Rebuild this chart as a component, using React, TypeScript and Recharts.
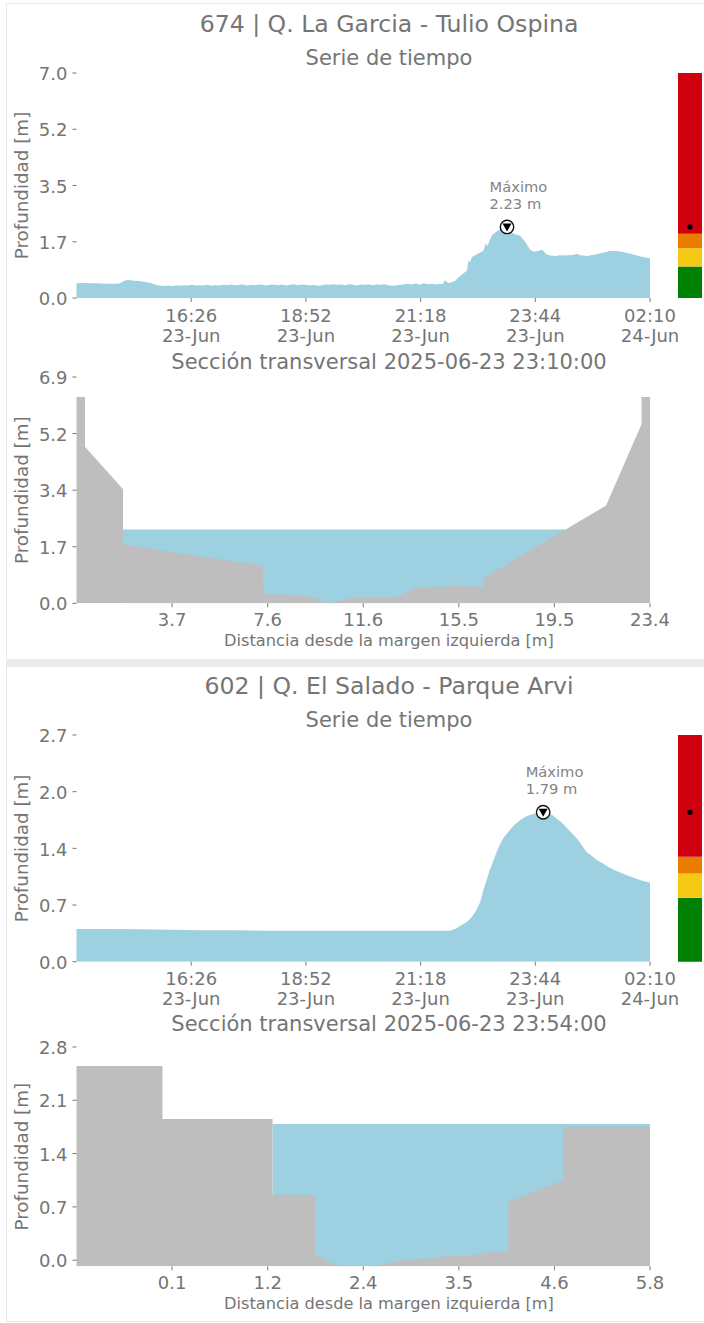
import { AreaChart, Area, BarChart, Bar, XAxis, YAxis, ReferenceDot } from 'recharts'

const FONT = '"DejaVu Sans", sans-serif'
const TEXT_COLOR = '#757575'
const WATER = '#9DD0E0'
const GROUND = '#BEBEBE'

// minutes since 14:00 on the first panel
const timeTicks = [146, 292, 438, 584, 730]
const timeLabels = ['16:26', '18:52', '21:18', '23:44', '02:10']
const dateLabels = ['23-Jun', '23-Jun', '23-Jun', '23-Jun', '24-Jun']

const garciaTimes = [0, 8, 16, 24, 32, 40, 48, 55, 60, 66, 72, 80, 88, 94, 100, 106, 112, 117, 122, 127, 132, 137, 142, 147, 152, 157, 162, 167, 172, 177, 182, 187, 192, 197, 202, 207, 212, 217, 222, 227, 232, 237, 242, 247, 252, 257, 262, 267, 272, 277, 282, 287, 292, 297, 302, 307, 312, 317, 322, 327, 332, 337, 342, 347, 352, 357, 362, 367, 372, 377, 382, 387, 392, 397, 402, 407, 412, 417, 422, 427, 432, 437, 442, 447, 452, 457, 462, 466, 469, 473, 478, 482, 490, 497, 499, 501, 503, 512, 518, 521, 523, 529, 533, 539, 545, 556, 565, 571, 577, 582, 588, 593, 598, 603, 610, 615, 622, 632, 637, 641, 650, 662, 670, 679, 686, 694, 705, 717, 724, 730]
const garciaDepths = [0.46, 0.47, 0.46, 0.46, 0.45, 0.44, 0.44, 0.45, 0.53, 0.57, 0.54, 0.53, 0.5, 0.47, 0.42, 0.38, 0.37, 0.39, 0.37, 0.39, 0.38, 0.4, 0.39, 0.41, 0.39, 0.4, 0.39, 0.41, 0.38, 0.4, 0.39, 0.41, 0.4, 0.42, 0.4, 0.41, 0.42, 0.39, 0.41, 0.4, 0.42, 0.41, 0.39, 0.42, 0.41, 0.4, 0.42, 0.39, 0.41, 0.43, 0.4, 0.42, 0.41, 0.39, 0.41, 0.38, 0.4, 0.42, 0.41, 0.43, 0.41, 0.42, 0.4, 0.43, 0.41, 0.39, 0.42, 0.41, 0.43, 0.4, 0.42, 0.41, 0.43, 0.4, 0.38, 0.39, 0.41, 0.42, 0.44, 0.42, 0.45, 0.41, 0.46, 0.43, 0.44, 0.42, 0.44, 0.43, 0.55, 0.47, 0.49, 0.54, 0.72, 0.85, 1.18, 1.1, 1.27, 1.39, 1.47, 1.7, 1.62, 1.96, 2.04, 2.14, 2.12, 2.01, 1.93, 1.75, 1.52, 1.44, 1.46, 1.5, 1.36, 1.32, 1.31, 1.33, 1.32, 1.34, 1.38, 1.33, 1.31, 1.36, 1.41, 1.46, 1.46, 1.44, 1.38, 1.3, 1.26, 1.24]
const garciaYTicks = [0, 1.75, 3.5, 5.25, 7]
const garciaYLabels = ['0.0', '1.7', '3.5', '5.2', '7.0']
const garciaGauge = [0.98, 0.57, 0.45, 5]

const saladoTimes = [0, 40, 80, 120, 160, 200, 240, 280, 320, 360, 400, 440, 463, 475, 482, 488, 495, 501, 505, 509, 514, 518, 522, 526, 531, 535, 539, 543, 548, 552, 558, 565, 571, 577, 584, 590, 596, 603, 607, 611, 618, 624, 630, 637, 643, 649, 656, 662, 669, 675, 683, 692, 700, 709, 719, 730]
const saladoDepths = [0.39, 0.39, 0.385, 0.38, 0.375, 0.375, 0.37, 0.37, 0.37, 0.37, 0.37, 0.37, 0.369, 0.369, 0.389, 0.425, 0.46, 0.508, 0.556, 0.615, 0.714, 0.853, 0.972, 1.091, 1.21, 1.31, 1.397, 1.468, 1.528, 1.575, 1.635, 1.687, 1.722, 1.746, 1.766, 1.778, 1.778, 1.762, 1.738, 1.706, 1.655, 1.595, 1.536, 1.468, 1.389, 1.31, 1.258, 1.21, 1.175, 1.139, 1.099, 1.063, 1.032, 1, 0.968, 0.94]
const saladoYTicks = [0, 0.675, 1.35, 2.025, 2.7]
const saladoYLabels = ['0.0', '0.7', '1.4', '2.0', '2.7']
const saladoGauge = [0.76, 0.29, 0.2, 1.45]

const garciaDistance = [-0.24, 0.11, 0.11, 1.68, 1.68, 7.44, 7.47, 9.38, 10.21, 11.04, 12.93, 13.73, 15.67, 16.52, 16.56, 19.92, 21.59, 23.05, 23.05, 23.4]
const garciaBed = [6.29, 6.29, 4.77, 3.48, 1.79, 1.14, 0.29, 0.21, 0.01, 0.15, 0.19, 0.46, 0.55, 0.49, 0.77, 2.25, 2.98, 5.46, 6.29, 6.29]
const garciaLevel = 2.25
const garciaXTicks = [3.7, 7.64, 11.58, 15.52, 19.46, 23.4]
const garciaXLabels = ['3.7', '7.6', '11.6', '15.5', '19.5', '23.4']
const garciaSectionYTicks = [0, 1.725, 3.45, 5.175, 6.9]
const garciaSectionYLabels = ['0.0', '1.7', '3.4', '5.2', '6.9']

const saladoDistance = [-1, 0.02, 0.02, 1.325, 1.325, 1.83, 1.83, 2.06, 2.25, 2.51, 2.96, 3.2, 3.44, 3.68, 3.9, 4.12, 4.12, 4.77, 4.77, 5.8]
const saladoBed = [2.55, 2.55, 1.855, 1.855, 0.86, 0.86, 0.066, -0.057, -0.074, -0.074, 0.013, 0.02, 0.066, 0.066, 0.105, 0.118, 0.766, 1.05, 1.754, 1.754]
const saladoLevel = 1.79
const saladoXTicks = [0.133, 1.267, 2.4, 3.533, 4.667, 5.8]
const saladoXLabels = ['0.1', '1.2', '2.4', '3.5', '4.6', '5.8']
const saladoSectionYTicks = [0, 0.7, 1.4, 2.1, 2.8]
const saladoSectionYLabels = ['0.0', '0.7', '1.4', '2.1', '2.8']

const PLOT_LEFT = 76.5
const PLOT_RIGHT = 650
const PAD_TOP = 10

function Caption({ y, size, children }: { y: number; size: number; children: string }) {
  return (
    <div
      style={{
        position: 'absolute',
        left: 6,
        width: 766,
        top: y - 20,
        height: 40,
        lineHeight: '40px',
        textAlign: 'center',
        fontSize: size,
        fontFamily: FONT,
        color: TEXT_COLOR,
        whiteSpace: 'nowrap',
      }}
    >
      {children}
    </div>
  )
}

function yAxisProps(ticks: number[], labels: string[], domain: number[]) {
  return {
    type: 'number' as const,
    domain,
    ticks,
    interval: 0 as const,
    allowDataOverflow: true,
    width: PLOT_LEFT,
    axisLine: false,
    tickSize: 4,
    tickMargin: 5,
    tick: { fill: TEXT_COLOR, fontSize: 18, fontFamily: FONT, dy: 0.8 },
    tickLine: { stroke: '#777777' },
    tickFormatter: (v: number) => labels[ticks.indexOf(v)],
    label: {
      value: 'Profundidad [m]',
      angle: -90,
      position: 'insideLeft' as const,
      offset: 22,
      style: { textAnchor: 'middle', fill: TEXT_COLOR, fontSize: 18.3, fontFamily: FONT },
    },
  }
}

function TimeTick({ x, y, index }: any) {
  return (
    <text x={x} y={y} textAnchor="middle" fill={TEXT_COLOR} fontSize={18} fontFamily={FONT}>
      <tspan x={x} dy={17.5}>{timeLabels[index]}</tspan>
      <tspan x={x} dy={20}>{dateLabels[index]}</tspan>
    </text>
  )
}

function PeakMarker({ cx, cy, label }: any) {
  return (
    <g>
      <text x={cx - 17.5} y={cy - 35} fill="#848484" fontSize={14.7} fontFamily={FONT}>
        <tspan x={cx - 17.5}>Máximo</tspan>
        <tspan x={cx - 17.5} dy={17}>{label}</tspan>
      </text>
      <circle cx={cx} cy={cy} r={6.7} fill="#ffffff" stroke="#111111" strokeWidth={1.4} />
      <path d={`M ${cx - 4.5} ${cy - 3.5} L ${cx + 4.5} ${cy - 3.5} L ${cx} ${cy + 4.5} Z`} fill="#000000" />
    </g>
  )
}

function TimeSeries(props: {
  top: number
  height: number
  times: number[]
  depths: number[]
  yTicks: number[]
  yLabels: string[]
  yMax: number
  peakTime: number
  peakDepth: number
  peakLabel: string
  gauge: number[]
}) {
  const { top, height, times, depths, yTicks, yLabels, yMax, peakTime, peakDepth, peakLabel, gauge } = props
  const table = times.map((t, i) => ({ t, depth: depths[i] }))
  const gaugeRow = [{ name: 'nivel', green: gauge[0], yellow: gauge[1], orange: gauge[2], red: gauge[3] }]
  return (
    <>
      <div style={{ position: 'absolute', left: 0, top: top - PAD_TOP }}>
        <AreaChart
          width={704}
          height={height + PAD_TOP + 50}
          data={table}
          margin={{ top: PAD_TOP, right: 704 - PLOT_RIGHT, bottom: 0, left: 0 }}
        >
          <XAxis
            dataKey="t"
            type="number"
            domain={[0, 730]}
            ticks={timeTicks}
            interval={0}
            height={50}
            axisLine={false}
            tickSize={4}
            tickLine={{ stroke: '#777777' }}
            tick={<TimeTick />}
          />
          <YAxis {...yAxisProps(yTicks, yLabels, [0, yMax])} />
          <Area dataKey="depth" type="linear" fill={WATER} fillOpacity={1} stroke="none" isAnimationActive={false} />
          <ReferenceDot
            x={peakTime}
            y={peakDepth}
            ifOverflow="visible"
            shape={(p: any) => <PeakMarker cx={p.cx} cy={p.cy} label={peakLabel} />}
          />
        </AreaChart>
      </div>
      <div style={{ position: 'absolute', left: 678, top }}>
        <BarChart width={24} height={height} data={gaugeRow} margin={{ top: 0, right: 0, bottom: 0, left: 0 }} barCategoryGap={0}>
          <XAxis dataKey="name" hide />
          <YAxis type="number" domain={[0, yMax]} hide />
          <Bar dataKey="green" stackId="g" fill="#008000" isAnimationActive={false} />
          <Bar dataKey="yellow" stackId="g" fill="#F6C915" isAnimationActive={false} />
          <Bar dataKey="orange" stackId="g" fill="#E87D00" isAnimationActive={false} />
          <Bar dataKey="red" stackId="g" fill="#D0000F" isAnimationActive={false} />
          <ReferenceDot x="nivel" y={peakDepth} r={2.6} fill="#000000" stroke="none" ifOverflow="visible" />
        </BarChart>
      </div>
    </>
  )
}

function Section(props: {
  top: number
  height: number
  distance: number[]
  bed: number[]
  level: number
  xMin: number
  xTicks: number[]
  xLabels: string[]
  yTicks: number[]
  yLabels: string[]
  yMin: number
  yMax: number
}) {
  const { top, height, distance, bed, level, xMin, xTicks, xLabels, yTicks, yLabels, yMin, yMax } = props
  // water only where the bed is under the level, so no fringe shows along the banks
  const table = distance.map((d, i) => ({ d, bed: bed[i], water: bed[i] <= level ? level : null }))
  return (
    <div style={{ position: 'absolute', left: 0, top: top - PAD_TOP }}>
      <AreaChart
        width={704}
        height={height + PAD_TOP + 30}
        data={table}
        margin={{ top: PAD_TOP, right: 704 - PLOT_RIGHT, bottom: 0, left: 0 }}
      >
        <XAxis
          dataKey="d"
          type="number"
          domain={[xMin, xTicks[xTicks.length - 1]]}
          ticks={xTicks}
          interval={0}
          height={30}
          axisLine={false}
          tickSize={4}
          tickMargin={5.5}
          tickLine={{ stroke: '#777777' }}
          tick={{ fill: TEXT_COLOR, fontSize: 18, fontFamily: FONT }}
          tickFormatter={(v: number) => xLabels[xTicks.indexOf(v)]}
        />
        <YAxis {...yAxisProps(yTicks, yLabels, [yMin, yMax])} />
        <Area dataKey="water" type="linear" baseValue={yMin} fill={WATER} fillOpacity={1} stroke="none" isAnimationActive={false} />
        <Area dataKey="bed" type="linear" baseValue={yMin} fill={GROUND} fillOpacity={1} stroke="none" isAnimationActive={false} />
      </AreaChart>
    </div>
  )
}

export default function App() {
  return (
    <div style={{ position: 'absolute', left: 0, top: 0, width: 704, height: 1323, background: '#ffffff', overflow: 'hidden' }}>
      {/* card edges and the band between the two stations */}
      <div style={{ position: 'absolute', left: 6, top: 3, width: 698, height: 1319, boxSizing: 'border-box', borderLeft: '1px solid #e8e8e8', borderTop: '1px solid #e8e8e8', borderBottom: '1px solid #e8e8e8' }} />
      <div style={{ position: 'absolute', left: 6, top: 659, width: 698, height: 8, background: '#ececec' }} />

      <Caption y={24} size={23.6}>674 | Q. La Garcia - Tulio Ospina</Caption>
      <Caption y={57.5} size={21}>Serie de tiempo</Caption>
      <TimeSeries
        top={73}
        height={225}
        times={garciaTimes}
        depths={garciaDepths}
        yTicks={garciaYTicks}
        yLabels={garciaYLabels}
        yMax={7}
        peakTime={548}
        peakDepth={2.21}
        peakLabel="2.23 m"
        gauge={garciaGauge}
      />
      <Caption y={362} size={21}>Sección transversal 2025-06-23 23:10:00</Caption>
      <Section
        top={376.7}
        height={226.3}
        distance={garciaDistance}
        bed={garciaBed}
        level={garciaLevel}
        xMin={-0.24}
        xTicks={garciaXTicks}
        xLabels={garciaXLabels}
        yTicks={garciaSectionYTicks}
        yLabels={garciaSectionYLabels}
        yMin={0}
        yMax={6.9}
      />
      <Caption y={641} size={16.2}>Distancia desde la margen izquierda [m]</Caption>

      <Caption y={686} size={23.6}>602 | Q. El Salado - Parque Arvi</Caption>
      <Caption y={720} size={21}>Serie de tiempo</Caption>
      <TimeSeries
        top={735}
        height={226.7}
        times={saladoTimes}
        depths={saladoDepths}
        yTicks={saladoYTicks}
        yLabels={saladoYLabels}
        yMax={2.7}
        peakTime={594}
        peakDepth={1.78}
        peakLabel="1.79 m"
        gauge={saladoGauge}
      />
      <Caption y={1024} size={21}>Sección transversal 2025-06-23 23:54:00</Caption>
      <Section
        top={1046.7}
        height={219.3}
        distance={saladoDistance}
        bed={saladoBed}
        level={saladoLevel}
        xMin={-1}
        xTicks={saladoXTicks}
        xLabels={saladoXLabels}
        yTicks={saladoSectionYTicks}
        yLabels={saladoSectionYLabels}
        yMin={-0.08}
        yMax={2.8}
      />
      <Caption y={1304} size={16.2}>Distancia desde la margen izquierda [m]</Caption>
    </div>
  )
}
